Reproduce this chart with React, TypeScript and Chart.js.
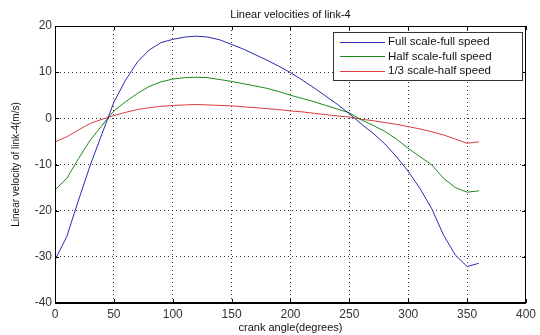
import React, { useEffect, useRef } from "react";
import { Chart, registerables } from "chart.js";

Chart.register(...registerables);

const angles = [0, 10, 20, 30, 40, 50, 60, 70, 80, 90, 100, 110, 120, 130, 140, 150, 160, 170, 180, 190, 200, 210, 220, 230, 240, 250, 260, 270, 280, 290, 300, 310, 320, 330, 340, 350, 360];

const fullScaleFullSpeed = [-30.7, -25.6, -17.7, -10.1, -3.3, 3.5, 8.3, 12.2, 14.8, 16.4, 17.1, 17.6, 17.8, 17.6, 17.0, 16.0, 15.0, 13.8, 12.6, 11.3, 9.9, 8.3, 6.6, 4.8, 3.0, 1.0, -1.2, -3.2, -5.5, -8.3, -11.5, -15.2, -19.6, -25.3, -29.6, -32.1, -31.4];
const halfScaleFullSpeed = [-15.5, -13.0, -8.7, -4.7, -1.5, 1.6, 3.6, 5.4, 6.9, 7.9, 8.5, 8.8, 8.9, 8.8, 8.4, 8.0, 7.5, 7.0, 6.5, 5.8, 5.0, 4.3, 3.6, 2.8, 2.0, 1.2, -0.3, -1.5, -2.8, -4.5, -6.5, -8.3, -10.1, -13.0, -15.0, -16.0, -15.7];
const thirdScaleHalfSpeed = [-5.1, -4.0, -2.5, -1.1, -0.2, 0.6, 1.3, 1.9, 2.3, 2.6, 2.8, 2.9, 3.0, 2.9, 2.8, 2.7, 2.5, 2.3, 2.1, 1.9, 1.6, 1.4, 1.1, 0.8, 0.5, 0.3, -0.2, -0.5, -0.9, -1.3, -1.8, -2.3, -2.9, -3.6, -4.5, -5.4, -5.1];

const seriesNames = ["Full scale-full speed", "Half scale-full speed", "1/3 scale-half speed"];
const seriesColors = ["#2a2aae", "#1b8a1b", "#dc3a3a"];

const xTicks = [0, 50, 100, 150, 200, 250, 300, 350, 400];
const yTicks = [-40, -30, -20, -10, 0, 10, 20];

const titleText = "Linear velocities of link-4";
const xTitle = "crank angle(degrees)";
const yTitle = "Linear velocity of link-4(m/s)";

const FONT = "'Liberation Sans', Arial, sans-serif";

const decorPlugin = {
  id: "decor",
  afterDraw(chart: any) {
    const { ctx, chartArea } = chart;
    const { left, right, top, bottom } = chartArea;
    ctx.save();
    ctx.strokeStyle = "#000";
    ctx.lineWidth = 1;
    ctx.setLineDash([]);
    ctx.strokeRect(left + 0.5, top + 0.5, right - left - 1, bottom - top - 1);
    const xs = chart.scales.x;
    const ys = chart.scales.y;
    ctx.beginPath();
    xTicks.forEach((v) => {
      const px = Math.round(xs.getPixelForValue(v)) + 0.5;
      ctx.moveTo(px, bottom);
      ctx.lineTo(px, bottom - 4);
      ctx.moveTo(px, top);
      ctx.lineTo(px, top + 4);
    });
    yTicks.forEach((v) => {
      const py = Math.round(ys.getPixelForValue(v)) + 0.5;
      ctx.moveTo(left, py);
      ctx.lineTo(left + 4, py);
      ctx.moveTo(right, py);
      ctx.lineTo(right - 4, py);
    });
    ctx.stroke();
    ctx.fillStyle = "#111";
    ctx.font = `11px ${FONT}`;
    ctx.textAlign = "center";
    ctx.textBaseline = "middle";
    ctx.fillText(titleText, (left + right) / 2, 15);
    ctx.fillText(xTitle, (left + right) / 2, 328);
    ctx.save();
    ctx.translate(16, (top + bottom) / 2);
    ctx.rotate(-Math.PI / 2);
    ctx.font = `10px ${FONT}`;
    ctx.fillText(yTitle, 0, 0);
    ctx.restore();
    const lx = 333;
    const ly = 32;
    const lw = right - 4 - lx;
    const lh = 48;
    ctx.fillStyle = "#fff";
    ctx.fillRect(lx, ly, lw, lh);
    ctx.strokeStyle = "#333";
    ctx.lineWidth = 1;
    ctx.strokeRect(lx + 0.5, ly + 0.5, lw, lh);
    ctx.font = `11.5px ${FONT}`;
    ctx.textAlign = "left";
    seriesNames.forEach((name, i) => {
      const yy = ly + 9.5 + i * 14.5;
      ctx.strokeStyle = seriesColors[i];
      ctx.lineWidth = 1;
      ctx.beginPath();
      ctx.moveTo(340, Math.round(yy) + 0.5);
      ctx.lineTo(385, Math.round(yy) + 0.5);
      ctx.stroke();
      ctx.fillStyle = "#111";
      ctx.fillText(name, 388, yy + 0.5);
    });
    ctx.restore();
  },
};

export default function App() {
  const ref = useRef<HTMLCanvasElement | null>(null);
  useEffect(() => {
    document.body.style.margin = "0";
    document.body.style.background = "#fff";
    const canvas = ref.current;
    if (!canvas) return;
    const allSeries = [fullScaleFullSpeed, halfScaleFullSpeed, thirdScaleHalfSpeed];
    const chart = new Chart(canvas, {
      type: "line",
      data: {
        datasets: allSeries.map((vals, i) => ({
          label: seriesNames[i],
          data: angles.map((a, j) => ({ x: a, y: vals[j] })),
          borderColor: seriesColors[i],
          borderWidth: 1,
          pointRadius: 0,
          tension: 0,
          fill: false,
        })),
      },
      options: {
        responsive: false,
        animation: false,
        layout: { padding: { top: 26, right: 10, left: 0, bottom: 0 } },
        plugins: {
          legend: { display: false },
          title: { display: false },
          tooltip: { enabled: false },
        },
        scales: {
          x: {
            type: "linear",
            min: 0,
            max: 400,
            afterBuildTicks: (s: any) => {
              s.ticks = xTicks.map((v) => ({ value: v }));
            },
            afterFit: (s: any) => {
              s.height = 32;
            },
            grid: {
              color: "#333",
              lineWidth: 1,
              drawTicks: false,
              tickLength: 0,
            },
            border: { display: true, color: "#000", dash: [1, 3] },
            ticks: {
              font: { family: FONT, size: 12 },
              color: "#333",
              padding: 4,
              maxRotation: 0,
              autoSkip: false,
            },
          },
          y: {
            type: "linear",
            min: -40,
            max: 20,
            afterBuildTicks: (s: any) => {
              s.ticks = yTicks.map((v) => ({ value: v }));
            },
            afterFit: (s: any) => {
              s.width = 55;
            },
            grid: {
              color: "#333",
              lineWidth: 1,
              drawTicks: false,
              tickLength: 0,
            },
            border: { display: true, color: "#000", dash: [1, 3] },
            ticks: {
              font: { family: FONT, size: 12 },
              color: "#333",
              padding: 3,
              autoSkip: false,
            },
          },
        },
      },
      plugins: [decorPlugin],
    } as any);
    return () => chart.destroy();
  }, []);
  return <canvas ref={ref} width={540} height={335} style={{ display: "block" }} />;
}
